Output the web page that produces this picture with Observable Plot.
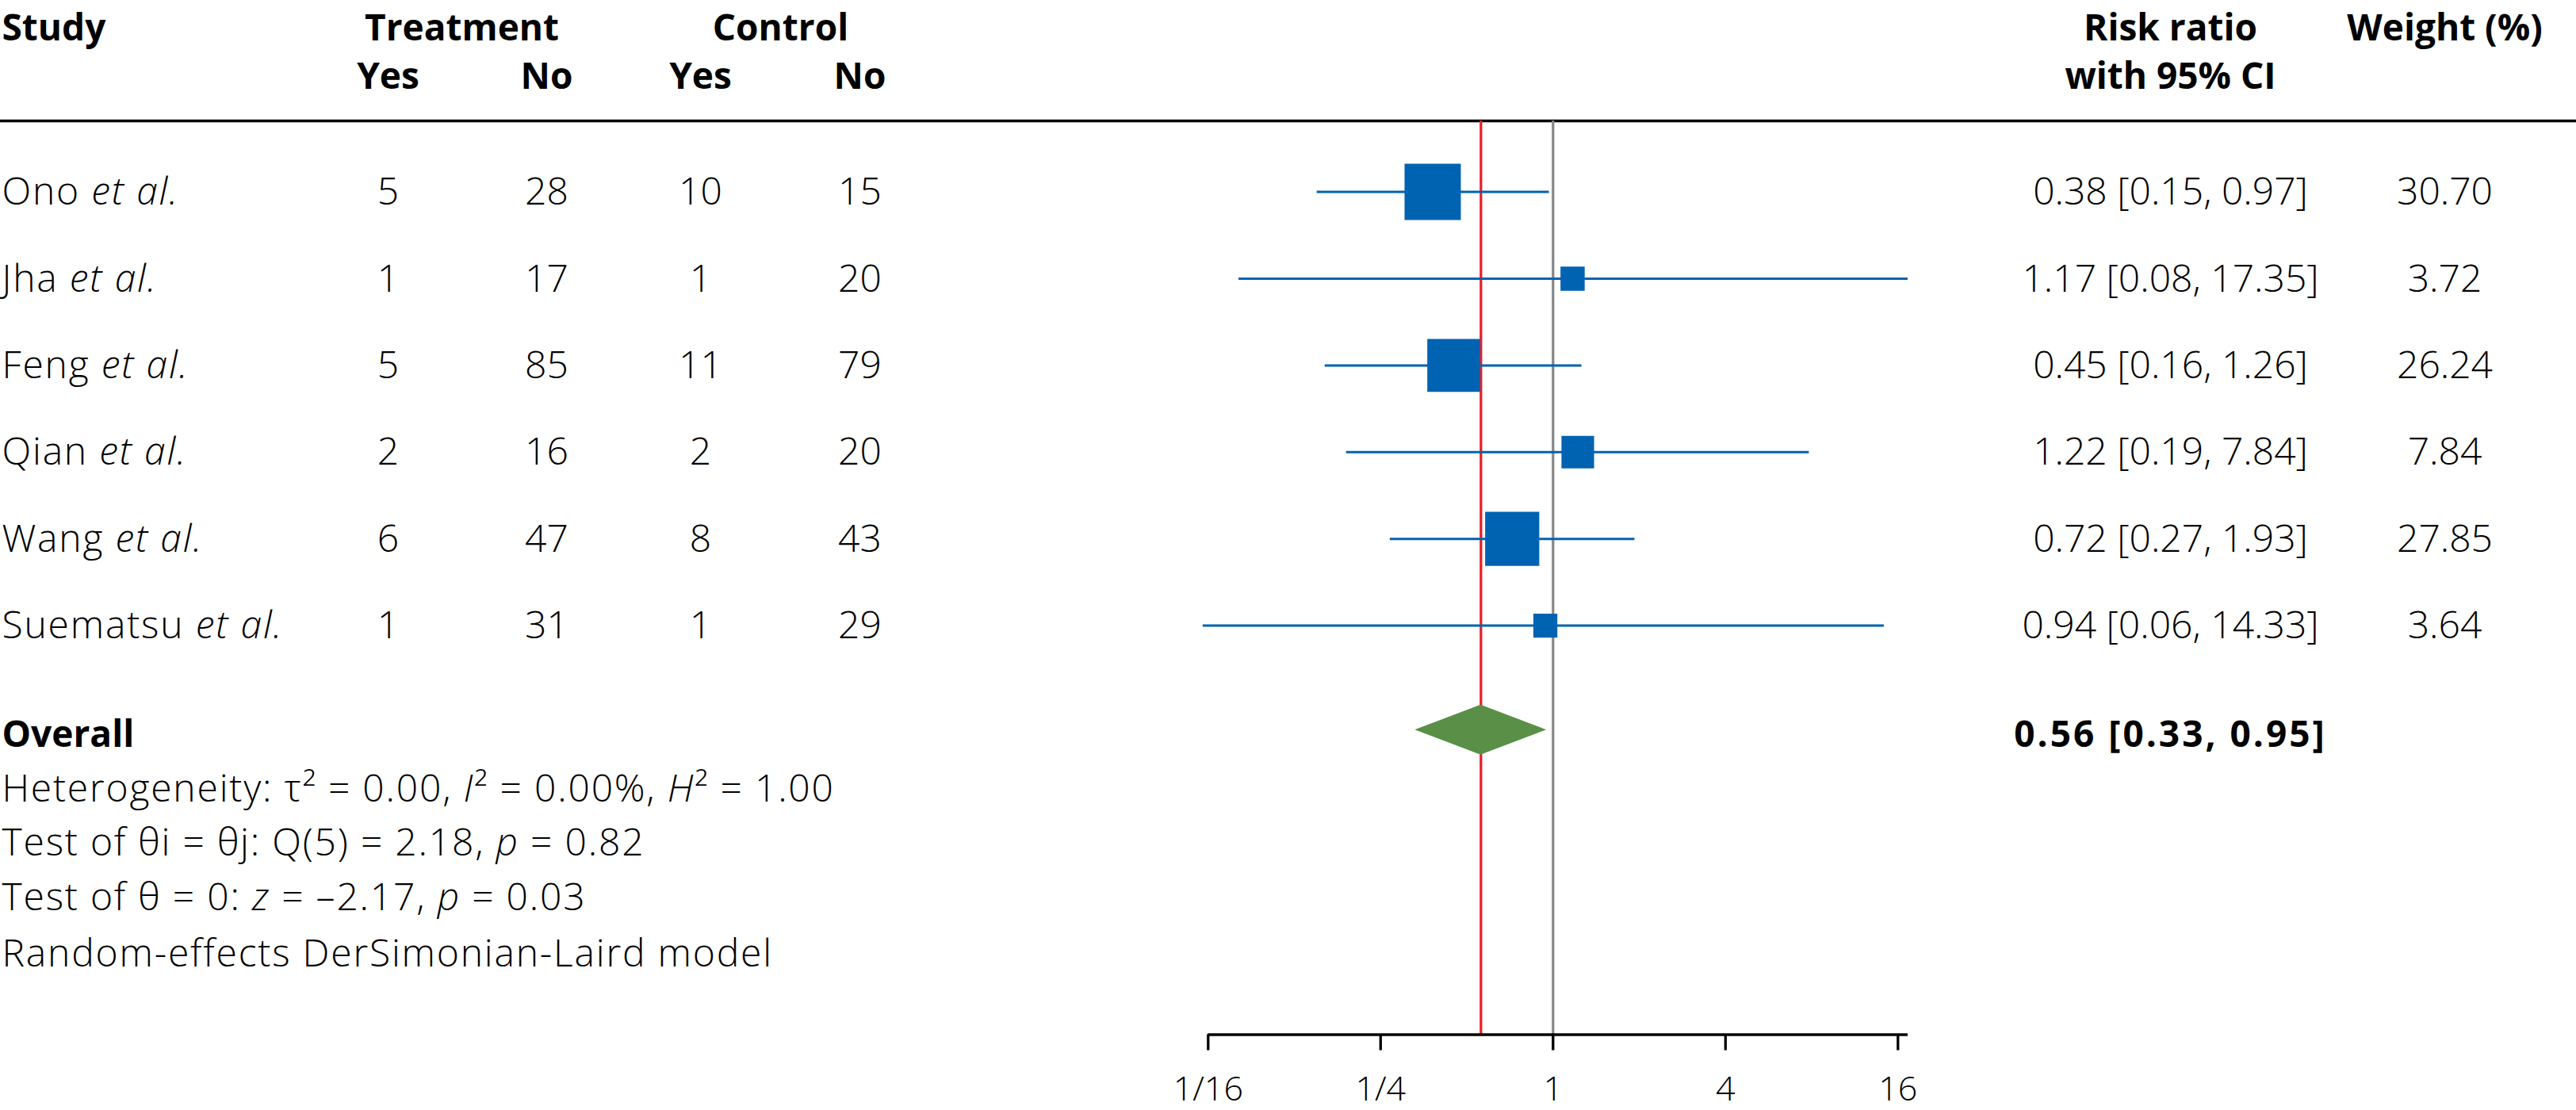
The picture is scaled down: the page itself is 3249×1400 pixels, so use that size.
<!DOCTYPE html>
<html>
<head>
<meta charset="utf-8">
<script src="https://cdn.jsdelivr.net/npm/d3@7"></script>
<script src="https://cdn.jsdelivr.net/npm/@observablehq/plot@0.6"></script>
<style>
  html, body { margin: 0; padding: 0; background: #fff; overflow: hidden; }
  svg { display: block; }
</style>
</head>
<body>
<div id="chart"></div>
<script>
// ---------- data ----------
const studies   = ["Ono _et al._", "Jha _et al._", "Feng _et al._", "Qian _et al._", "Wang _et al._", "Suematsu _et al._"];
const treatYes  = [5, 1, 5, 2, 6, 1];
const treatNo   = [28, 17, 85, 16, 47, 31];
const ctrlYes   = [10, 1, 11, 2, 8, 1];
const ctrlNo    = [15, 20, 79, 20, 43, 29];
const riskRatio = [0.38, 1.17, 0.45, 1.22, 0.72, 0.94];
const ciLow     = [0.15, 0.08, 0.16, 0.19, 0.27, 0.06];
const ciHigh    = [0.97, 17.35, 1.26, 7.84, 1.93, 14.33];
const weights   = [30.70, 3.72, 26.24, 7.84, 27.85, 3.64];

const overallRR = 0.56, overallLow = 0.33, overallHigh = 0.95;
const statsLines = [
  "Heterogeneity: τ² = 0.00, _I_² = 0.00%, _H_² = 1.00",
  "Test of θi = θj: Q(5) = 2.18, _p_ = 0.82",
  "Test of θ = 0: _z_ = –2.17, _p_ = 0.03",
  "Random-effects DerSimonian-Laird model"
];
const tickValues = [1/16, 1/4, 1, 4, 16];
const tickLabels = ["1/16", "1/4", "1", "4", "16"];

// ---------- layout (row units) ----------
const W = 3249, H = 1400;
const ROW0 = 241.6, STEP = 109.4;
const HEAD1 = -1.751, HEAD2 = -1.187, RULE = -0.819;
const OVERALL = 6.203, AXIS = 9.716;
const STATS = [7.024, 7.654, 8.285, 8.934];
const DIAMOND_H = 0.288, TICK_LEN = 0.183;

const BLUE = "#0063b1", RED = "#ec1c24", GRAY = "#858585", GREEN = "#5a8f47";
const FS = 46, FS_LIGHT = 48, FS_TICK = 43;
const FONT = "'Open Sans', 'Noto Sans', sans-serif";

const fmt = v => v.toFixed(2);
const rows = studies.map((s, i) => ({
  i, name: s, ty: treatYes[i], tn: treatNo[i], cy: ctrlYes[i], cn: ctrlNo[i],
  rr: riskRatio[i], lo: ciLow[i], hi: ciHigh[i], w: weights[i],
  rrText: `${fmt(riskRatio[i])} [${fmt(ciLow[i])}, ${fmt(ciHigh[i])}]`,
  wText: fmt(weights[i])
}));

const colText = (key, dx, opts = {}) => Plot.text(rows, {
  y: "i", text: key, frameAnchor: "left", dx, dy: 16, lineAnchor: "bottom",
  textAnchor: "middle", fontSize: FS_LIGHT, fontWeight: 300, ...opts
});

const headerCells = [
  {t: "Study", row: HEAD1, dx: 2, anchor: "start"},
  {t: "Treatment", row: HEAD1, dx: 582, anchor: "middle"},
  {t: "Control", row: HEAD1, dx: 984, anchor: "middle"},
  {t: "Risk ratio", row: HEAD1, dx: 2737, anchor: "middle"},
  {t: "Weight (%)", row: HEAD1, dx: 3083, anchor: "middle"},
  {t: "Yes", row: HEAD2, dx: 489, anchor: "middle"},
  {t: "No", row: HEAD2, dx: 689, anchor: "middle"},
  {t: "Yes", row: HEAD2, dx: 883, anchor: "middle"},
  {t: "No", row: HEAD2, dx: 1084, anchor: "middle"},
  {t: "with 95% CI", row: HEAD2, dx: 2737, anchor: "middle"}
];
const headerMarks = headerCells.map(h => Plot.text([h], {
  y: "row", text: "t", frameAnchor: "left", dx: h.dx, lineAnchor: "bottom",
  textAnchor: h.anchor, fontSize: FS, fontWeight: 700
}));

const diamond = [
  {x: overallLow, top: OVERALL, bottom: OVERALL},
  {x: overallRR, top: OVERALL - DIAMOND_H, bottom: OVERALL + DIAMOND_H},
  {x: overallHigh, top: OVERALL, bottom: OVERALL}
];

const axisMax = d3.max(ciHigh);

const svg = Plot.plot({
  width: W, height: H,
  margin: 0,
  style: {background: "#fff", fontFamily: FONT, color: "#000"},
  x: {type: "log", base: 2, domain: [1/16, 16], range: [1523.3, 2393.3], axis: null},
  y: {type: "linear", domain: [-ROW0 / STEP, (H - ROW0) / STEP], range: [0, H], axis: null},
  r: {type: "pow", exponent: 0.4, domain: [0, d3.max(weights)], range: [0, 71 / Math.sqrt(Math.PI)]},
  marks: [
    // header rule
    Plot.ruleY([RULE], {stroke: "#000", strokeWidth: 3.4}),
    // reference lines
    Plot.ruleX([1], {y1: RULE, y2: AXIS, stroke: GRAY, strokeWidth: 3.2}),
    Plot.ruleX([overallRR], {y1: RULE, y2: AXIS, stroke: RED, strokeWidth: 3.2}),
    // CIs
    Plot.ruleY(rows, {y: "i", x1: "lo", x2: "hi", stroke: BLUE, strokeWidth: 3}),
    // weighted squares
    Plot.dot(rows, {x: "rr", y: "i", r: "w", symbol: "square", fill: BLUE, stroke: "none"}),
    // overall diamond
    Plot.areaY(diamond, {x: "x", y1: "top", y2: "bottom", fill: GREEN, curve: "linear"}),
    // axis
    Plot.ruleY([AXIS], {x1: 1/16, x2: axisMax, stroke: "#000", strokeWidth: 3.6}),
    Plot.ruleX(tickValues, {y1: AXIS, y2: AXIS + TICK_LEN, stroke: "#000", strokeWidth: 3.3}),
    Plot.text(tickValues, {x: d => d, y: AXIS, dy: 83, lineAnchor: "bottom", text: (d, i) => tickLabels[i],
      fontSize: FS_TICK, fontWeight: 300, textAnchor: "middle"}),
    // headers
    ...headerMarks,
    // study columns
    colText("name", 2, {textAnchor: "start"}),
    colText("ty", 489),
    colText("tn", 689),
    colText("cy", 883),
    colText("cn", 1084),
    colText("rrText", 2737),
    colText("wText", 3083),
    // overall
    Plot.text([{row: OVERALL, t: "Overall"}], {y: "row", text: "t", frameAnchor: "left", dx: 2, dy: 21,
      lineAnchor: "bottom", textAnchor: "start", fontSize: FS, fontWeight: 700}),
    Plot.text([{row: OVERALL, t: `${fmt(overallRR)} [${fmt(overallLow)}, ${fmt(overallHigh)}]`}],
      {y: "row", text: "t", frameAnchor: "left", dx: 2737, dy: 21, lineAnchor: "bottom",
       textAnchor: "middle", fontSize: FS, fontWeight: 700}),
    // stats
    Plot.text(statsLines.map((t, k) => ({t, row: STATS[k]})), {y: "row", text: "t", frameAnchor: "left", dx: 2,
      lineAnchor: "bottom", textAnchor: "start", fontSize: FS_LIGHT, fontWeight: 300})
  ]
});

// italic segments marked with underscores; letter spacing tuned to the reference face
const NS = "http://www.w3.org/2000/svg";
svg.querySelectorAll("text").forEach(t => {
  const s = t.textContent;
  const g = t.closest("g");
  const weight = g ? g.getAttribute("font-weight") : null;
  if (weight === "300" && /[A-Za-z]/.test(s)) t.setAttribute("letter-spacing", "1.8");
  if (weight === "700" && /^[0-9]/.test(s)) t.setAttribute("letter-spacing", "3");
  if (!s.includes("_")) return;
  const parts = s.split("_");
  t.textContent = "";
  parts.forEach((p, k) => {
    if (!p) return;
    const ts = document.createElementNS(NS, "tspan");
    if (k % 2) ts.setAttribute("font-style", "italic");
    ts.textContent = p;
    t.appendChild(ts);
  });
});

document.getElementById("chart").appendChild(svg);
</script>
</body>
</html>
